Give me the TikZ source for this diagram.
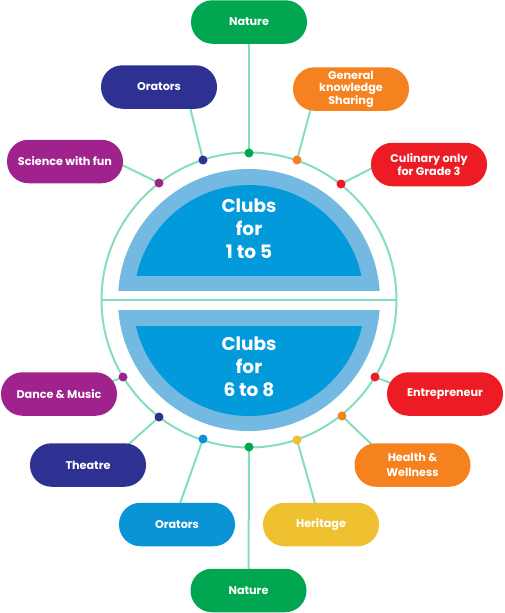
\documentclass[tikz,border=0pt]{standalone}
\usepackage{fontspec}
\setmainfont{Poppins}
\usetikzlibrary{backgrounds}

\definecolor{mint}{HTML}{84DEBE}
\definecolor{ringblue}{HTML}{74B9E1}
\definecolor{coreblue}{HTML}{039ADC}
\definecolor{natgreen}{HTML}{00A650}
\definecolor{navy}{HTML}{2E3192}
\definecolor{plum}{HTML}{A0228D}
\definecolor{tangerine}{HTML}{F5821F}
\definecolor{scarlet}{HTML}{ED1C24}
\definecolor{sky}{HTML}{0A94D6}
\definecolor{mustard}{HTML}{EFC030}

\tikzset{
  club/.style={fill=#1, rounded corners=21.5pt, minimum width=116pt, minimum height=43.5pt,
    inner sep=2pt, text=white, align=center, font=\fontsize{11.2}{12.5}\selectfont\bfseries},
  pin/.style={circle, fill=#1, inner sep=0pt, minimum size=9pt},
  link/.style={mint, line width=2pt},
  title/.style={text=white, align=center, font=\fontsize{18.5}{23}\selectfont\bfseries}
}

\begin{document}
\begin{tikzpicture}[x=1pt,y=-1pt]
  \useasboundingbox (0,0) rectangle (504,613);

  % ring and the two half discs
  \draw[link] (249,300) circle (147.5pt);
  \draw[link] (101.5,300) -- (396.5,300);
  \begin{scope}
    \clip (100,150) rectangle (400,290);
    \fill[ringblue] (249,300) circle (131pt);
  \end{scope}
  \begin{scope}
    \clip (100,150) rectangle (400,275);
    \fill[coreblue] (249,300) circle (115pt);
  \end{scope}
  \begin{scope}
    \clip (100,310) rectangle (400,450);
    \fill[ringblue] (249,300) circle (131pt);
  \end{scope}
  \begin{scope}
    \clip (100,326) rectangle (400,450);
    \fill[coreblue] (249,300) circle (116pt);
  \end{scope}
  \node[title] (upper) at (249,229) {Clubs\\for\\1 to 5};
  \node[title] (lower) at (249,367) {Clubs\\for\\6 to 8};

  % dots on the ring
  \node[pin=natgreen] (pNatA) at (249,153) {};
  \node[pin=navy] (pOraA) at (203,160) {};
  \node[pin=plum] (pSci) at (159,183) {};
  \node[pin=tangerine] (pGen) at (297,160) {};
  \node[pin=scarlet] (pCul) at (341,184) {};
  \node[pin=plum] (pDan) at (123,377) {};
  \node[pin=navy] (pThe) at (159,417) {};
  \node[pin=sky] (pOraB) at (203,439) {};
  \node[pin=natgreen] (pNatB) at (249,447) {};
  \node[pin=mustard] (pHer) at (297,440) {};
  \node[pin=tangerine] (pHea) at (342,416) {};
  \node[pin=scarlet] (pEnt) at (375,377) {};

  % clubs
  \node[club=natgreen] (natA) at (249,22) {Nature};
  \node[club=navy] (oraA) at (159,87) {Orators};
  \node[club=plum] (sci) at (65,161.5) {Science with fun};
  \node[club=tangerine, font=\fontsize{11.2}{12}\selectfont\bfseries] (gen) at (351,89) {General\\knowledge\\Sharing};
  \node[club=scarlet, font=\fontsize{11.2}{13}\selectfont\bfseries] (cul) at (429,164.5) {Culinary only\\for Grade 3};
  \node[club=plum] (dan) at (59,394) {Dance \& Music};
  \node[club=navy] (the) at (88,465) {Theatre};
  \node[club=sky] (oraB) at (177,524.5) {Orators};
  \node[club=natgreen] (natB) at (248.5,590.5) {Nature};
  \node[club=mustard] (her) at (321,524.5) {Heritage};
  \node[club=tangerine, font=\fontsize{11.2}{15}\selectfont\bfseries] (hea) at (412.5,465) {Health \&\\Wellness};
  \node[club=scarlet] (ent) at (445,394) {Entrepreneur};

  % links, drawn under the clubs and dots
  \begin{pgfonlayer}{background}
    \draw[link] (pNatA.center) -- (natA.center);
    \draw[link] (pOraA.center) -- ([xshift=26pt]oraA.center);
    \draw[link] (pSci.center) -- ([xshift=50pt]sci.center);
    \draw[link] (pGen.center) -- ([xshift=-35pt]gen.center);
    \draw[link] (pCul.center) -- ([xshift=-50pt]cul.center);
    \draw[link] (pDan.center) -- ([xshift=21.5pt]dan.center);
    \draw[link] (pThe.center) -- ([xshift=17.5pt]the.center);
    \draw[link] (pOraB.center) -- ([xshift=-4.5pt]oraB.center);
    \draw[link] (pNatB.center) -- (natB.center);
    \draw[link] (pHer.center) -- (her.center);
    \draw[link] (pHea.center) -- ([xshift=-19.5pt]hea.center);
    \draw[link] (pEnt.center) -- ([xshift=-26pt]ent.center);
  \end{pgfonlayer}
\end{tikzpicture}
\end{document}
